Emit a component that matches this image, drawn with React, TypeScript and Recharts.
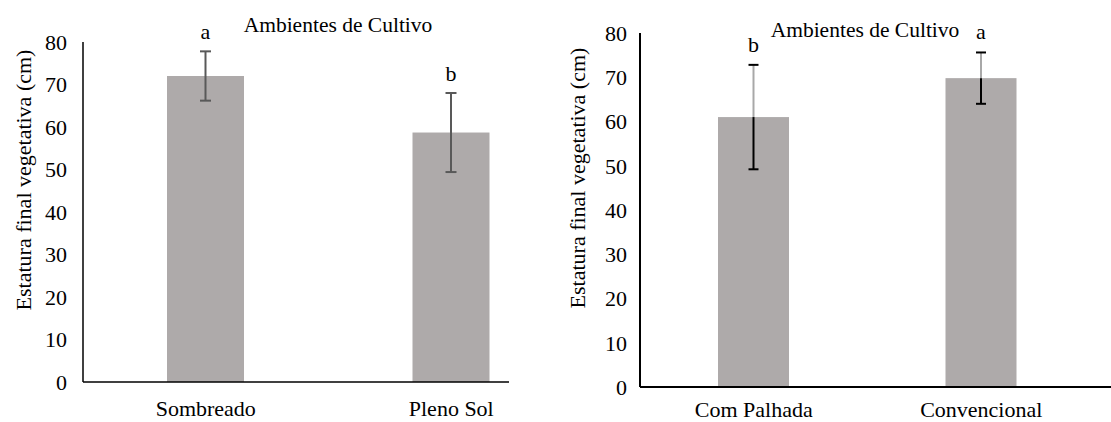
import React from "react";
import { BarChart, Bar, XAxis, YAxis, ErrorBar } from "recharts";

// Left panel: cultivation environments
const envCategories = ["Sombreado", "Pleno Sol"];
const envHeights = [72, 58.7];
const envErrors = [5.8, 9.3];
const envLetters = ["a", "b"];

// Right panel: soil management
const soilCategories = ["Com Palhada", "Convencional"];
const soilHeights = [61, 69.8];
const soilErrors = [11.8, 5.8];
const soilLetters = ["b", "a"];

const yTicks = [0, 10, 20, 30, 40, 50, 60, 70, 80];

const TITLE = "Ambientes de Cultivo";
const Y_LABEL = "Estatura final vegetativa  (cm)";

const BAR_COLOR = "#AEAAAA";
const FONT = "Liberation Serif";

const envData = envCategories.map((name, i) => ({
  name,
  value: envHeights[i],
  err: envErrors[i],
  letter: envLetters[i],
}));

const soilData = soilCategories.map((name, i) => ({
  name,
  value: soilHeights[i],
  err: soilErrors[i],
  letter: soilLetters[i],
}));

// letter above the error bar, using the bar's own pixel scale
const LetterBar = (props: any) => {
  const { x, y, width, height, payload, fill } = props;
  const ppu = height / payload.value;
  const cx = x + width / 2;
  const top = y - payload.err * ppu;
  return (
    <g>
      <rect x={x} y={y} width={width} height={height} fill={fill} />
      <text x={cx} y={top - 12} textAnchor="middle" fontSize={22} fill="#000">
        {payload.letter}
      </text>
    </g>
  );
};

// right panel: stem is grey above the bar, black inside it
const SplitErrorBar = (props: any) => {
  const { x, y, width, height, payload, fill } = props;
  const ppu = height / payload.value;
  const cx = x + width / 2;
  const top = y - payload.err * ppu;
  const bottom = y + payload.err * ppu;
  return (
    <g>
      <rect x={x} y={y} width={width} height={height} fill={fill} />
      <line x1={cx} y1={top} x2={cx} y2={y} stroke="#a8a8a8" strokeWidth={2} />
      <line x1={cx} y1={y} x2={cx} y2={bottom} stroke="#000" strokeWidth={2} />
      <line x1={cx - 5} y1={top} x2={cx + 5} y2={top} stroke="#000" strokeWidth={2} />
      <line x1={cx - 5} y1={bottom} x2={cx + 5} y2={bottom} stroke="#000" strokeWidth={2} />
      <text x={cx} y={top - 13} textAnchor="middle" fontSize={22} fill="#000">
        {payload.letter}
      </text>
    </g>
  );
};

const tickStyle = { fontSize: 22, fill: "#000" };

const AxisTitle = ({ cx, cy }: { cx: number; cy: number }) => (
  <text
    x={cx}
    y={cy}
    transform={`rotate(-90, ${cx}, ${cy})`}
    textAnchor="middle"
    dominantBaseline="central"
    fontSize={22}
    fill="#000"
  >
    {Y_LABEL}
  </text>
);

export default function App() {
  return (
    <div
      style={{
        position: "absolute",
        left: 0,
        top: 0,
        width: 1111,
        height: 422,
        background: "#fff",
        overflow: "hidden",
        fontFamily: FONT,
      }}
    >
      {/* left chart, clipped so the axis line stops short of the last band */}
      <div
        style={{
          position: "absolute",
          left: 0,
          top: 0,
          width: 509,
          height: 422,
          overflow: "hidden",
        }}
      >
        <BarChart
          width={600}
          height={422}
          data={envData}
          margin={{ top: 42, right: 26, left: 0, bottom: 0 }}
          style={{ fontFamily: FONT }}
        >
          <XAxis
            dataKey="name"
            height={40}
            tickLine={false}
            tickSize={0}
            tickMargin={18}
            axisLine={{ stroke: "#000", strokeWidth: 1.5 }}
            tick={tickStyle}
          />
          <YAxis
            width={83}
            domain={[0, 80]}
            ticks={yTicks}
            interval={0}
            tickLine={false}
            tickSize={0}
            tickMargin={16}
            axisLine={{ stroke: "#000", strokeWidth: 1.5 }}
            tick={tickStyle}
          />
          <Bar
            dataKey="value"
            fill={BAR_COLOR}
            barSize={77}
            isAnimationActive={false}
            shape={<LetterBar />}
          >
            <ErrorBar
              dataKey="err"
              width={5.5}
              stroke="#595959"
              strokeWidth={2}
              direction="y"
            />
          </Bar>
        </BarChart>
      </div>

      {/* right chart */}
      <div
        style={{
          position: "absolute",
          left: 560,
          top: 0,
          width: 551,
          height: 422,
        }}
      >
        <BarChart
          width={551}
          height={422}
          data={soilData}
          margin={{ top: 33, right: 0, left: 0, bottom: 0 }}
          style={{ fontFamily: FONT }}
        >
          <XAxis
            dataKey="name"
            height={35}
            padding={{ left: 0, right: 16 }}
            tickLine={false}
            tickSize={0}
            tickMargin={14}
            axisLine={{ stroke: "#000", strokeWidth: 2 }}
            tick={tickStyle}
          />
          <YAxis
            width={80}
            domain={[0, 80]}
            ticks={yTicks}
            interval={0}
            tickLine={false}
            tickSize={0}
            tickMargin={13}
            axisLine={{ stroke: "#000", strokeWidth: 2 }}
            tick={tickStyle}
          />
          <Bar
            dataKey="value"
            fill={BAR_COLOR}
            barSize={71}
            isAnimationActive={false}
            shape={<SplitErrorBar />}
          />
        </BarChart>
      </div>

      {/* titles and rotated axis labels */}
      <svg
        width={1111}
        height={422}
        style={{ position: "absolute", left: 0, top: 0, pointerEvents: "none" }}
      >
        <text x={338} y={32} textAnchor="middle" fontSize={21.5} fill="#000">
          {TITLE}
        </text>
        <text x={865} y={37} textAnchor="middle" fontSize={21.5} fill="#000">
          {TITLE}
        </text>
        <AxisTitle cx={23} cy={180} />
        <AxisTitle cx={577} cy={178} />
      </svg>
    </div>
  );
}
